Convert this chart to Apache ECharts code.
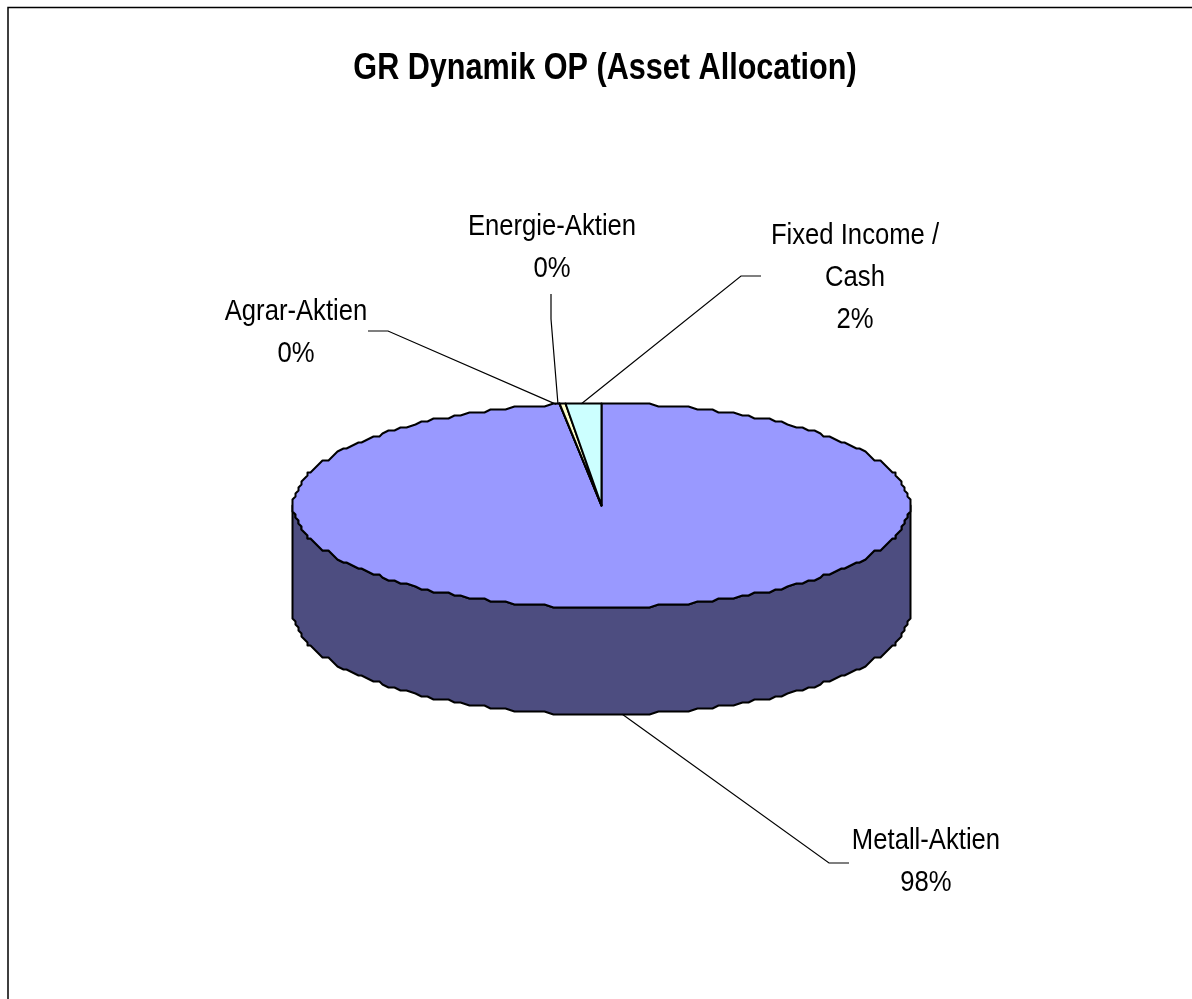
<!DOCTYPE html>
<html>
<head>
<meta charset="utf-8">
<title>GR Dynamik OP (Asset Allocation)</title>
<script src="https://cdn.jsdelivr.net/npm/echarts@6/dist/echarts.min.js"></script>
<style>
  html, body { margin: 0; padding: 0; background: #fff; }
  #chart { width: 1192px; height: 999px; }
</style>
</head>
<body>
<div id="chart"></div>
<script>
const chartTitle = 'GR Dynamik OP (Asset Allocation)'
const categories = ['Metall-Aktien', 'Agrar-Aktien', 'Energie-Aktien', 'Fixed Income /\nCash']
const shares = [97.85, 0.03, 0.25, 1.87]

const topColors = ['#9999FF', '#993366', '#FFFFCC', '#CCFFFF']
const sideColors = ['#4D4D80', '#4D1A33', '#808066', '#668080']

// pie geometry, the 3d look is an ellipse plus an extruded lower rim
const cx = 601.5, cy = 505.5, rx = 308, ry = 102, depth = 107
const labelFont = '30px "Liberation Sans", Arial, sans-serif'
const labelSpots = [
  { x: 926, y: 862, scale: 0.855, tip: 0, line: [[849, 863], [829, 863]] },
  { x: 296, y: 333, scale: 0.855, tip: -4, line: [[368, 331], [388, 331]] },
  { x: 552, y: 248, scale: 0.855, tip: -5, line: [[551, 294], [551, 319]] },
  { x: 855, y: 278, scale: 0.855, tip: -2, line: [[761, 276], [741, 276]] }
]

const total = shares.reduce((a, b) => a + b, 0)
const toAngle = v => v / total * Math.PI * 2
const arcStep = Math.PI / 120

function startAngle(i) {
  return toAngle(shares.slice(0, i).reduce((a, b) => a + b, 0))
}

// the source was drawn on a coarse grid, so the rim is a bit stepped
function rimPoint(a, dy) {
  const snap = v => Math.round(v / 3) * 3
  return [cx + snap(rx * Math.sin(a)), cy + snap(-ry * Math.cos(a)) + dy]
}

// samples sit on one fixed angle grid so the wall and the top share their edge
function arcPoints(from, to, dy) {
  const pts = [rimPoint(from, dy)]
  for (let k = Math.floor(from / arcStep) + 1; k * arcStep < to; k++) pts.push(rimPoint(k * arcStep, dy))
  pts.push(rimPoint(to, dy))
  return pts
}

function renderSlice(params, api) {
  const i = params.dataIndex
  const from = startAngle(i)
  const to = from + toAngle(api.value(0))
  const mid = (from + to) / 2
  const children = []

  // side wall, only the front half of the rim can be seen
  const sFrom = Math.max(from, Math.PI / 2)
  const sTo = Math.min(to, Math.PI * 1.5)
  if (sTo > sFrom) {
    const upper = arcPoints(sFrom, sTo, 0)
    const lower = arcPoints(sFrom, sTo, depth).reverse()
    children.push({
      type: 'polygon',
      shape: { points: upper.concat(lower) },
      style: { fill: sideColors[i], stroke: '#000', lineWidth: 2, lineJoin: 'round' }
    })
  }

  // top face
  children.push({
    type: 'polygon',
    z2: 2,
    shape: { points: [[cx, cy]].concat(arcPoints(from, to, 0)) },
    style: { fill: topColors[i], stroke: '#000', lineWidth: 2, lineJoin: 'round' }
  })

  // leader line and label
  const spot = labelSpots[i]
  const front = mid > Math.PI / 2 && mid < Math.PI * 1.5
  const end = [cx + spot.tip + rx * Math.sin(mid), cy - ry * Math.cos(mid) + (front ? depth : 0)]
  children.push({
    type: 'polyline',
    z2: 3,
    shape: { points: spot.line.concat([end]) },
    style: { fill: null, stroke: '#000', lineWidth: 1.2 }
  })
  children.push({
    type: 'text',
    z2: 3,
    x: spot.x,
    y: spot.y,
    scaleX: spot.scale,
    style: {
      text: categories[i] + '\n' + Math.round(api.value(0) / total * 100) + '%',
      font: labelFont,
      lineHeight: 42,
      fill: '#000',
      align: 'center',
      verticalAlign: 'middle'
    }
  })
  return { type: 'group', children: children }
}

const chart = echarts.init(document.getElementById('chart'), null, { renderer: 'canvas' })
chart.setOption({
  animation: false,
  backgroundColor: '#fff',
  graphic: [
    {
      type: 'polyline',
      shape: { points: [[8, 999], [8, 7.5], [1192, 7.5]] },
      style: { fill: null, stroke: '#000', lineWidth: 1.5 }
    },
    {
      type: 'text',
      x: 605,
      y: 69,
      scaleX: 0.827,
      style: {
        text: chartTitle,
        font: 'bold 37px "Liberation Sans", Arial, sans-serif',
        fill: '#000',
        align: 'center',
        verticalAlign: 'middle'
      }
    }
  ],
  series: [{
    type: 'custom',
    coordinateSystem: 'none',
    renderItem: renderSlice,
    data: shares.map(v => [v])
  }]
})
</script>
</body>
</html>
